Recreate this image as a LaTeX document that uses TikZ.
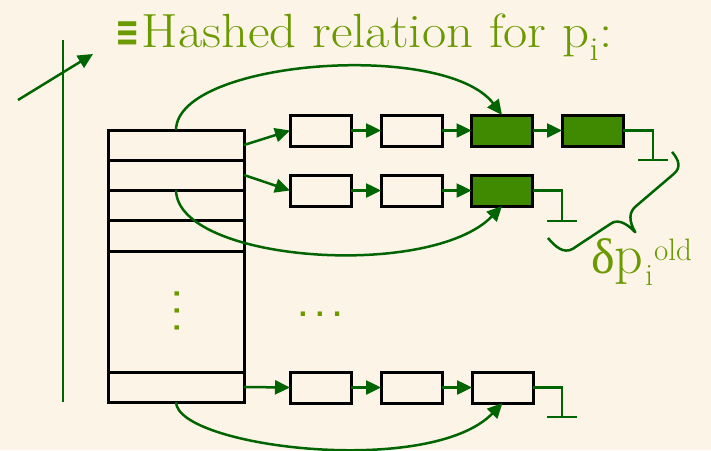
\documentclass[tikz,border=0pt]{standalone}
\usepackage{fontspec}
\newfontfamily\grk{Liberation Serif}
\newfontfamily\dotfont{DejaVu Sans}
\usetikzlibrary{arrows.meta}
\definecolor{bg}{HTML}{FDF4E8}
\definecolor{linkgreen}{HTML}{006400}
\definecolor{cellgreen}{HTML}{3F8A00}
\definecolor{olive}{HTML}{6B9900}
\tikzset{
  cell/.style={draw=black, line width=3pt, minimum width=61pt, minimum height=31pt, inner sep=0pt, outer sep=0pt},
  hot/.style={cell, fill=cellgreen},
  slot/.style={draw=black, line width=3pt, minimum width=136pt, inner sep=0pt, outer sep=0pt},
  ptr/.style={draw=linkgreen, line width=2.5pt, -{Triangle[length=15pt,width=14pt]}},
  nil/.style={draw=linkgreen, line width=2.5pt},
  label/.style={text=olive, inner sep=0pt},
  dots/.style={label, font=\dotfont\bfseries\fontsize{24}{24}\selectfont}
}
\begin{document}
\begin{tikzpicture}[x=1pt,y=-1pt]
\fill[bg] (0,0) rectangle (711,450);
\useasboundingbox (0,0) rectangle (711,450);

% hash table slots
\node[slot, minimum height=30pt]  (s1) at (176,145) {};
\node[slot, minimum height=30pt]  (s2) at (176,175) {};
\node[slot, minimum height=30pt]  (s3) at (176,205) {};
\node[slot, minimum height=31pt]  (s4) at (176,235.5) {};
\node[slot, minimum height=121pt] (s5) at (176,311.5) {};
\node[slot, minimum height=30pt]  (s6) at (176,387) {};

% bucket chains
\node[cell] (a1) at (320.5,130.5) {};
\node[cell] (a2) at (411.5,130.5) {};
\node[hot]  (a3) at (502,130.5) {};
\node[hot]  (a4) at (592.5,130.5) {};

\node[cell] (b1) at (320.5,190.5) {};
\node[cell] (b2) at (411.5,190.5) {};
\node[hot]  (b3) at (502,190.5) {};

\node[cell] (c1) at (320.5,387.5) {};
\node[cell] (c2) at (411.5,387.5) {};
\node[cell] (c3) at (502.5,387.5) {};

% pointers from slots and along the chains
\draw[ptr] (s1.east) -- (a1.west);
\draw[ptr] (a1.east) -- (a2.west);
\draw[ptr] (a2.east) -- (a3.west);
\draw[ptr] (a3.east) -- (a4.west);

\draw[ptr] (s2.east) -- (b1.west);
\draw[ptr] (b1.east) -- (b2.west);
\draw[ptr] (b2.east) -- (b3.west);

\draw[ptr] (s6.east) -- (c1.west);
\draw[ptr] (c1.east) -- (c2.west);
\draw[ptr] (c2.east) -- (c3.west);

% null terminators
\coordinate (na) at (653,160);
\coordinate (nal) at (638,160);
\coordinate (nar) at (668,160);
\draw[nil] (a4.east) -| (na);
\draw[nil] (nal) -- (nar);

\coordinate (nb) at (562,221);
\coordinate (nbl) at (547,221);
\coordinate (nbr) at (577,221);
\draw[nil] (b3.east) -| (nb);
\draw[nil] (nbl) -- (nbr);

\coordinate (nc) at (562,417);
\coordinate (ncl) at (547,417);
\coordinate (ncr) at (577,417);
\draw[nil] (c3.east) -| (nc);
\draw[nil] (ncl) -- (ncr);

% shortcut pointers to the old entries
\draw[ptr] (s1.north) .. controls (177,60) and (445,40) .. (a3.north);
\draw[ptr] (s3.north) .. controls (177,262) and (430,280) .. (b3.south);
\draw[ptr] (s6.south) .. controls (177,447) and (430,478) .. (c3.south);

% axis with direction arrow
\coordinate (vtop) at (63,40);
\coordinate (vbot) at (63,402);
\draw[nil] (vtop) -- (vbot);
\coordinate (dstart) at (18,100);
\coordinate (dend) at (93,54);
\draw[ptr] (dstart) -- (dend);

% brace grouping the old entries, drawn along the line br2 -> br1
\coordinate (br1) at (672,152);
\coordinate (br2) at (548,238);
\begin{scope}[shift={(br2)}, rotate=34.74]
  \draw[nil, line join=round]
    (0,0) .. controls (1,12) and (4,22) .. (14,23) -- (60,24)
    .. controls (68,24) and (73,32) .. (75,45)
    .. controls (76,32) and (81,25) .. (90,24) -- (140,19)
    .. controls (150,18) and (152,10) .. (151,0);
\end{scope}

% texts
\node[label, anchor=base west, font=\fontsize{48}{52}\selectfont] (title) at (115,47)
  {{\dotfont\bfseries\fontsize{29}{29}\selectfont\raisebox{1pt}{\scalebox{1}[1.45]{≡}}}\hspace{2pt}%
   \scalebox{1.1}[1]{Hashed relation for p\textsubscript{i}:}};
\node[label, anchor=base west, font=\fontsize{56}{60}\selectfont] (delta) at (591,273)
  {{\grk\fontsize{50}{50}\selectfont δ}\hspace{0pt}p\hspace{2pt}%
   \raisebox{-12pt}{\fontsize{31}{31}\selectfont i}\hspace{1pt}%
   \raisebox{13pt}{\fontsize{31}{31}\selectfont old}};
\node[dots, rotate=90] (vdots) at (177,311) {.\hspace{8pt}.\hspace{8pt}.};
\node[dots] (hdots) at (320,314) {.\hspace{8pt}.\hspace{8pt}.};
\end{tikzpicture}
\end{document}
